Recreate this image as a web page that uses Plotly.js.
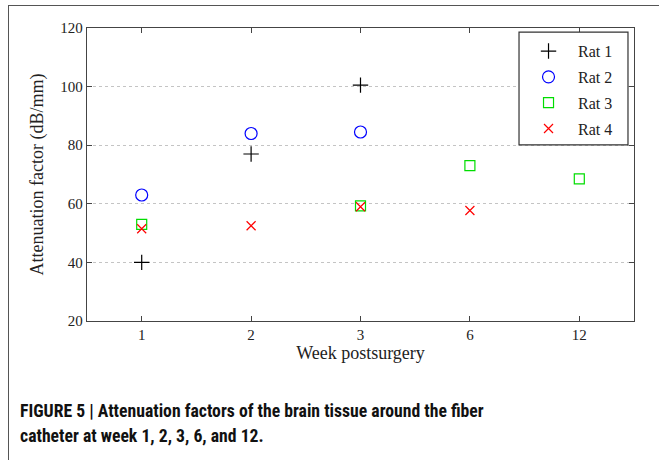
<!DOCTYPE html>
<html>
<head>
<meta charset="utf-8">
<script src="https://cdn.plot.ly/plotly-3.0.1.min.js"></script>
<style>
html, body { margin:0; padding:0; background:#fff; }
#wrap { position:relative; width:659px; height:460px; overflow:hidden; }
#chart { position:absolute; left:0; top:0; width:659px; height:460px; }
#frame { position:absolute; left:8px; top:5px; width:700px; height:500px; border-left:1.5px solid #555; border-top:1.5px solid #555; pointer-events:none; }
#caption { position:absolute; left:20px; top:399px; font-family:"Liberation Sans Narrow","Roboto Condensed","Liberation Sans",Arial,sans-serif; font-weight:bold; font-size:17.7px; line-height:25px; color:#111; white-space:nowrap; }
</style>
</head>
<body>
<div id="wrap">
<div id="chart"></div>
<div id="frame"></div>
<div id="caption"><div id="l1">FIGURE 5 | Attenuation factors of the brain tissue around the fiber</div><div id="l2">catheter at week 1, 2, 3, 6, and 12.</div></div>
</div>
<script>
var weeks = ['1', '2', '3', '6', '12'];
var rat1 = [40, 77, 100.5, null, null];
var rat2 = [63, 84, 84.5, null, null];
var rat3 = [53, null, 59.3, 73, 68.5];
var rat4 = [51.5, 52.5, 59, 57.7, null];
var seriesNames = ['Rat 1', 'Rat 2', 'Rat 3', 'Rat 4'];
var yTicks = [20, 40, 60, 80, 100, 120];

var serif = '"Liberation Serif","Times New Roman",serif';
function tr(name, y, symbol, color, size, grp) {
  return {
    type: 'scatter', mode: 'markers', name: name, x: weeks, y: y,
    legendgroup: grp,
    marker: { symbol: symbol, color: color, size: size, line: { color: color, width: 1.2 } }
  };
}
var data = [
  tr(seriesNames[0], rat1, 'cross-thin-open', '#000000', 11, 'a'),
  tr(seriesNames[1], rat2, 'circle-open', '#0000ff', 12, 'b'),
  tr(seriesNames[2], rat3, 'square-open', '#00dd00', 10, 'c'),
  tr(seriesNames[3], rat4, 'x-thin-open', '#ff0000', 9, 'd')
];
var layout = {
  width: 659, height: 460,
  margin: { l: 87, r: 25, t: 28, b: 139 },
  paper_bgcolor: 'rgba(0,0,0,0)', plot_bgcolor: '#fff',
  font: { family: serif, size: 15, color: '#222' },
  showlegend: true,
  legend: {
    x: 0.7898, xanchor: 'left', y: 0.979, yanchor: 'top',
    bgcolor: 'rgba(0,0,0,0)', borderwidth: 0,
    font: { family: serif, size: 16, color: '#222' },
    traceorder: 'grouped', tracegroupgap: 2, itemwidth: 49
  },
  shapes: [{
    type: 'rect', xref: 'paper', yref: 'paper', layer: 'above',
    x0: 0.7898, x1: 0.9890, y0: 0.601, y1: 0.986,
    fillcolor: '#ffffff', line: { color: '#333', width: 1.2 }
  }],
  xaxis: {
    type: 'category', range: [-0.5, 4.5],
    showline: true, linecolor: '#444', linewidth: 1.2, mirror: 'ticks',
    ticks: 'inside', ticklen: 5, tickcolor: '#444',
    showgrid: false, zeroline: false,
    tickfont: { family: serif, size: 15, color: '#222' },
    title: { text: 'Week postsurgery', font: { family: serif, size: 18, color: '#222' }, standoff: 4 }
  },
  yaxis: {
    range: [20, 120], tickvals: yTicks,
    showline: true, linecolor: '#444', linewidth: 1.2, mirror: 'ticks',
    ticks: 'inside', ticklen: 5, tickcolor: '#444',
    showgrid: true, gridcolor: '#c4c4c4', griddash: 'dot', gridwidth: 1, zeroline: false,
    tickfont: { family: serif, size: 15, color: '#222' },
    title: { text: 'Attenuation factor (dB/mm)', font: { family: serif, size: 18, color: '#222' }, standoff: 12 }
  }
};
Plotly.newPlot('chart', data, layout, { displayModeBar: false, staticPlot: true });
</script>
</body>
</html>
